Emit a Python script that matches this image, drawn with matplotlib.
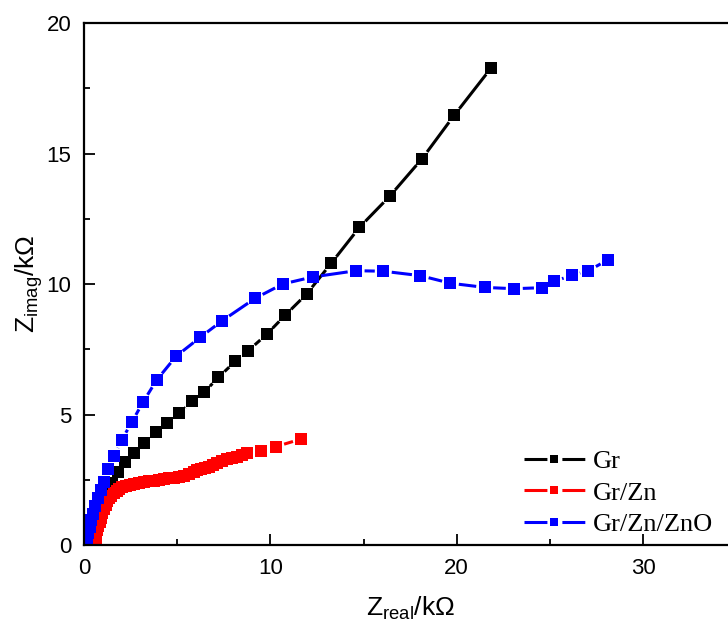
import numpy as np
import matplotlib
matplotlib.use("Agg")
import matplotlib.pyplot as plt
from matplotlib.lines import Line2D
from matplotlib.ticker import MultipleLocator

plt.rcParams['font.family'] = ['Liberation Sans', 'DejaVu Sans']
plt.rcParams['mathtext.fontset'] = 'custom'
plt.rcParams['mathtext.rm'] = 'Liberation Sans'
plt.rcParams['mathtext.it'] = 'Liberation Sans:italic'

# Gr
gr_x = [0.2, 0.25, 0.35, 0.5, 0.7, 0.9, 1.2, 1.50, 1.81, 2.22, 2.70, 3.24, 3.85, 4.45,
        5.08, 5.78, 6.44, 7.21, 8.12, 8.82, 9.80, 10.79, 11.95, 13.26, 14.78, 16.40,
        18.14, 19.86, 21.86]
gr_y = [0.05, 0.25, 0.5, 0.8, 1.2, 1.6, 2.0, 2.38, 2.78, 3.17, 3.52, 3.89, 4.34, 4.67,
        5.06, 5.50, 5.85, 6.42, 7.04, 7.45, 8.07, 8.80, 9.62, 10.79, 12.17, 13.36,
        14.80, 16.46, 18.29]

# Gr/Zn
zn_x = [0.60, 0.62, 0.63, 0.67, 0.71, 0.77, 0.84, 0.91, 0.98, 1.07,
        1.16, 1.25, 1.34, 1.47, 1.61, 1.75, 1.88, 2.05, 2.24, 2.45,
        2.68, 2.95, 3.22, 3.50, 3.76, 4.02, 4.29, 4.56, 4.83, 5.10,
        5.37, 5.64, 5.90, 6.08, 6.26, 6.48, 6.71, 6.93, 7.15, 7.42,
        7.69, 7.95, 8.21, 8.48, 8.75, 9.48, 10.30, 11.65]
zn_y = [0.00, 0.13, 0.26, 0.42, 0.57, 0.73, 0.89, 1.05, 1.21, 1.37,
        1.53, 1.67, 1.79, 1.89, 1.98, 2.07, 2.15, 2.21, 2.27, 2.31,
        2.35, 2.38, 2.41, 2.44, 2.46, 2.50, 2.53, 2.56, 2.58, 2.61,
        2.64, 2.72, 2.81, 2.86, 2.91, 2.96, 3.00, 3.06, 3.13, 3.20,
        3.28, 3.33, 3.38, 3.45, 3.51, 3.61, 3.77, 4.06]

# Gr/Zn/ZnO
zno_x = [0.1, 0.15, 0.22, 0.3, 0.4, 0.5, 0.6, 0.75, 0.9, 1.07, 1.29, 1.63, 2.02, 2.56,
         3.17, 3.90, 4.94, 6.24, 7.41, 9.18, 10.66, 12.27, 14.60, 16.06, 18.05, 19.66,
         21.50, 23.09, 24.60, 25.22, 26.17, 27.07, 28.12]
zno_y = [0.1, 0.25, 0.45, 0.7, 0.95, 1.2, 1.5, 1.8, 2.1, 2.43, 2.91, 3.42, 4.02, 4.70,
         5.48, 6.32, 7.23, 7.96, 8.59, 9.45, 10.00, 10.27, 10.51, 10.49, 10.32, 10.03,
         9.87, 9.82, 9.86, 10.10, 10.33, 10.51, 10.93]

series = [
    (gr_x, gr_y, 'black', 'Gr'),
    (zn_x, zn_y, 'red', 'Gr/Zn'),
    (zno_x, zno_y, 'blue', 'Gr/Zn/ZnO'),
]

fig = plt.figure(figsize=(7.28, 6.24), dpi=100)
ax = fig.add_axes([0.1154, 0.1266, 0.8959, 0.8365])
ax.set_xlim(0, 35)
ax.set_ylim(0, 20)

LW = 2.2
MS = 8
GAP = 8.5  # pixels from marker centre to line end


def gap_line(ax, x, y, color):
    # solid line that stops short of each symbol, like the original plot
    pts = ax.transData.transform(np.column_stack([x, y]))
    inv = ax.transData.inverted()
    for p0, p1 in zip(pts[:-1], pts[1:]):
        d = p1 - p0
        L = np.hypot(*d)
        if L <= 2 * GAP:
            continue
        u = d / L
        seg = inv.transform([p0 + u * GAP, p1 - u * GAP])
        ax.plot(seg[:, 0], seg[:, 1], color=color, lw=LW, solid_capstyle='butt')


handles = []
for x, y, c, name in series:
    gap_line(ax, x, y, c)
    ax.plot(x, y, ls='none', marker='s', ms=MS, color=c, mec=c, mew=0)
    handles.append(Line2D([], [], color=c, lw=LW, ls=(0, (7.5, 4.9)),
                          marker='s', ms=6, mew=0, label=name))

ax.xaxis.set_major_locator(MultipleLocator(10))
ax.xaxis.set_minor_locator(MultipleLocator(5))
ax.yaxis.set_major_locator(MultipleLocator(5))
ax.yaxis.set_minor_locator(MultipleLocator(2.5))
ax.tick_params(which='both', direction='in', width=1.3, labelsize=16)
ax.tick_params(which='major', length=8, pad=9)
ax.tick_params(which='minor', length=4)
for s in ax.spines.values():
    s.set_linewidth(1.6)

ax.set_xlabel(r'Z$_{\mathrm{real}}$/k$\Omega$', fontsize=19, labelpad=12)
ax.set_ylabel(r'Z$_{\mathrm{imag}}$/k$\Omega$', fontsize=19, labelpad=1)

ax.legend(handles=handles, loc='lower left', bbox_to_anchor=(524 / 728, 1 - 536 / 624),
          bbox_transform=fig.transFigure, frameon=False, borderpad=0, borderaxespad=0,
          handlelength=2.3, handletextpad=0.3, labelspacing=0.3,
          prop={'family': 'Liberation Serif', 'size': 19})

fig.savefig('out.png', dpi=100)
